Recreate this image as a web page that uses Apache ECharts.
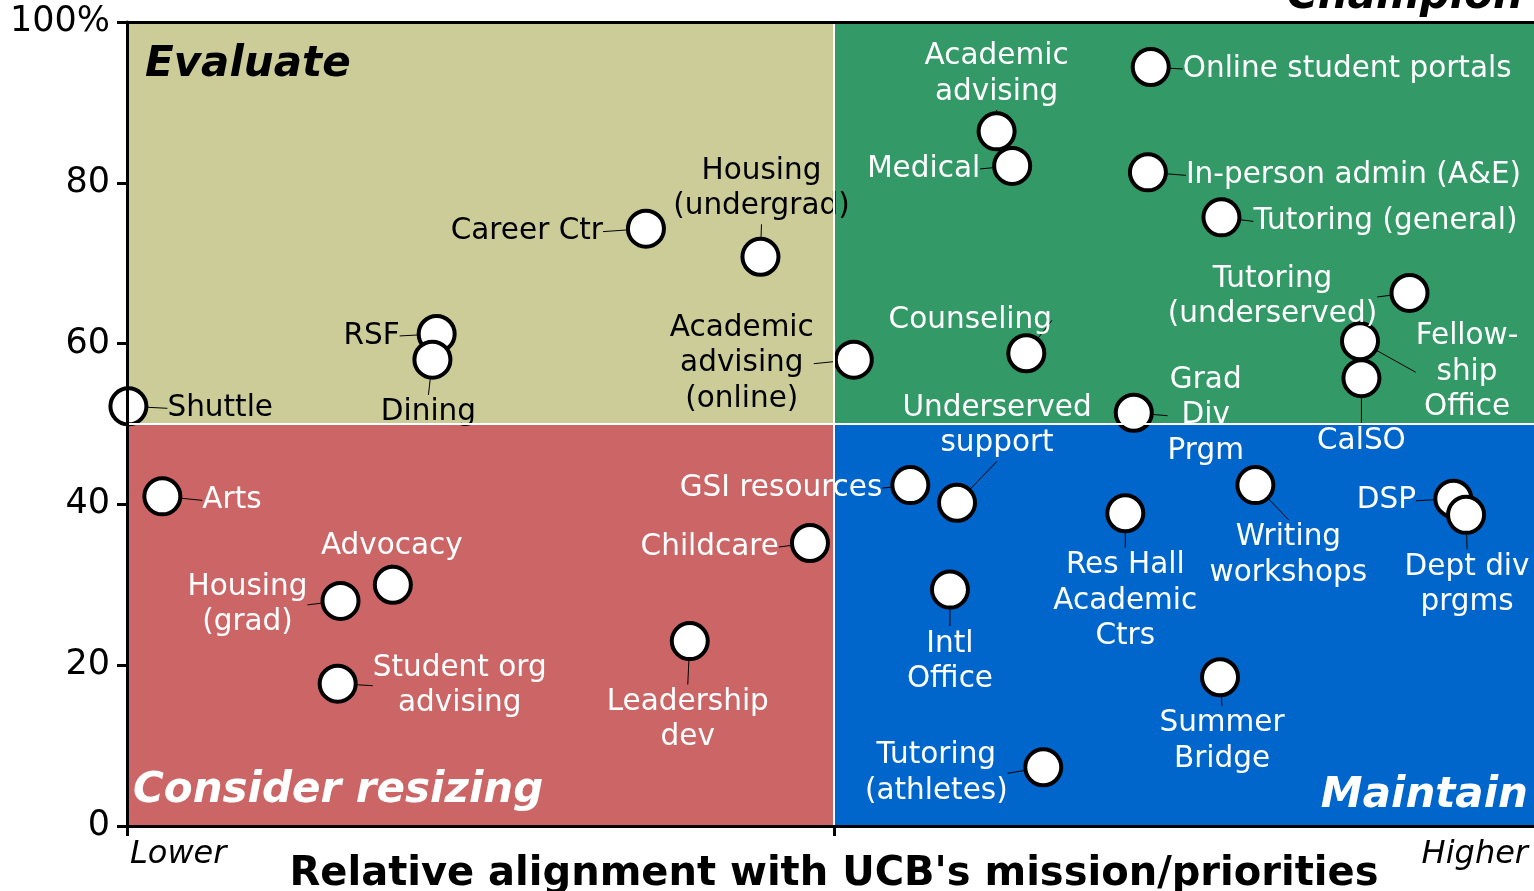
<!DOCTYPE html>
<html>
<head>
    <meta charset="utf-8">
    <title>Quadrant</title>
    <script src="https://cdn.jsdelivr.net/npm/echarts@6/dist/echarts.min.js"></script>
    <style>
        html, body { margin: 0; padding: 0; background: #fff; }
        #main { width: 1534px; height: 891px; }
    </style>
</head>
<body>
<div id="main"></div>
<script type="text/javascript">
    // 服务名称
    var names = ['Shuttle', 'RSF', 'Dining', 'Career Ctr', 'Housing\n(undergrad)', 'Academic\nadvising\n(online)',
        'Academic\nadvising', 'Medical', 'Online student portals', 'In-person admin (A&E)', 'Tutoring (general)',
        'Tutoring\n(underserved)', 'Fellow-\nship\nOffice', 'CalSO', 'Counseling', 'Grad\nDiv\nPrgm',
        'Underserved\nsupport', 'GSI resources', 'Childcare', 'Arts', 'Advocacy', 'Housing\n(grad)',
        'Student org\nadvising', 'Leadership\ndev', 'Intl\nOffice', 'Res Hall\nAcademic\nCtrs',
        'Writing\nworkshops', 'DSP', 'Dept div\nprgms', 'Summer\nBridge', 'Tutoring\n(athletes)'];
    // 与使命的一致程度 (X)
    var alignment = [0.1, 21.9, 21.6, 36.7, 44.8, 51.4,
        61.5, 62.6, 72.4, 72.2, 77.4,
        90.7, 87.2, 87.3, 63.6, 71.2,
        58.7, 55.4, 48.3, 2.5, 18.8, 15.1,
        14.9, 39.8, 58.2, 70.6,
        79.8, 93.8, 94.7, 77.3, 64.8];
    // 百分比 (Y)
    var share = [52.2, 61.2, 58.0, 74.3, 70.8, 58.0,
        86.4, 82.1, 94.4, 81.3, 75.7,
        66.3, 60.3, 55.7, 58.8, 51.4,
        40.2, 42.4, 35.2, 41.0, 30.0, 28.0,
        17.7, 23.0, 29.4, 38.9,
        42.4, 40.7, 38.7, 18.5, 7.3];
    var yTicks = [0, 20, 40, 60, 80, 100];
    var quadrantNames = ['Evaluate', 'Champion', 'Consider resizing', 'Maintain'];

    // 标签摆放 [dx, dy, align, 颜色]
    var place = [
        [39, 0, 'left', '#000'], [-37, 0, 'right', '#000'], [-4, 51, 'center', '#000'], [-43, 1, 'right', '#000'],
        [1, -70, 'center', '#000'], [-112, 2, 'center', '#000'],
        [0, -59, 'center', '#fff'], [-32, 1, 'right', '#fff'], [32, 0, 'left', '#fff'], [38, 1, 'left', '#fff'],
        [32, 2, 'left', '#fff'], [-137, 2, 'center', '#fff'], [107, 29, 'center', '#fff'], [0, 61, 'center', '#fff'],
        [-56, -35, 'center', '#fff'], [72, 1, 'center', '#fff'], [40, -79, 'center', '#fff'],
        [-28, 1, 'right', '#fff'], [-31, 2, 'right', '#fff'], [40, 2, 'left', '#fff'], [-1, -40, 'center', '#fff'],
        [-93, 2, 'center', '#fff'], [122, 0, 'center', '#fff'], [-2, 77, 'center', '#fff'], [0, 70, 'center', '#fff'],
        [0, 86, 'center', '#fff'], [33, 68, 'center', '#fff'], [-67, 0, 'center', '#fff'], [1, 68, 'center', '#fff'],
        [2, 62, 'center', '#fff'], [-107, 4, 'center', '#fff']
    ];

    var points = [];
    for (var i = 0; i < names.length; i++) {
        points.push({
            name: names[i],
            value: [alignment[i], share[i]],
            label: { color: place[i][3] }
        });
    }

    var font = 'DejaVu Sans, Verdana, sans-serif';
    var quadLabel = { fontFamily: font, fontSize: 42, fontWeight: 'bold', fontStyle: 'italic', lineHeight: 50 };

    var myChart = echarts.init(document.getElementById('main'));
    myChart.setOption({
        animation: false,
        textStyle: { fontFamily: font },
        grid: { left: 127, top: 22, width: 1414, height: 804, outerBoundsMode: 'none', containLabel: false },
        xAxis: [{
            type: 'value', min: 0, max: 100, interval: 50, z: 10,
            axisLine: { lineStyle: { color: '#000', width: 3 } },
            axisTick: { show: true, length: 10, lineStyle: { color: '#000', width: 3 } },
            axisLabel: { show: false },
            splitLine: { show: false },
            name: "Relative alignment with UCB's mission/priorities",
            nameLocation: 'middle', nameGap: 29,
            nameTextStyle: { fontFamily: font, fontSize: 40, fontWeight: 'bold', color: '#000' }
        }, {
            type: 'value', position: 'top', min: 0, max: 100, z: 10,
            axisLine: { lineStyle: { color: '#000', width: 3 } },
            axisTick: { show: false }, axisLabel: { show: false }, splitLine: { show: false }
        }],
        yAxis: {
            type: 'value', min: yTicks[0], max: yTicks[yTicks.length - 1], interval: 20, z: 10,
            axisLine: { lineStyle: { color: '#000', width: 3 } },
            axisTick: { show: true, length: 10, lineStyle: { color: '#000', width: 3 } },
            axisLabel: {
                margin: 17, fontFamily: font, fontSize: 35, color: '#000',
                formatter: function (v) { return v === 100 ? '100%' : String(v); }
            },
            splitLine: { show: false }
        },
        graphic: [
            { type: 'text', left: 130, top: 839, style: { text: 'Lower', font: 'italic 32px ' + font, fill: '#000' } },
            { type: 'text', right: 6, top: 839, style: { text: 'Higher', font: 'italic 32px ' + font, fill: '#000' } }
        ],
        series: [{
            type: 'scatter', data: [], z: 1, clip: false, silent: true,
            markArea: {
                silent: true,
                data: [
                    [{ coord: [0, 50], itemStyle: { color: '#cccc99' },
                        label: Object.assign({ position: [18, 43], align: 'left', verticalAlign: 'middle', color: '#000' }, quadLabel),
                        name: quadrantNames[0] }, { coord: [50, 100] }],
                    [{ coord: [50, 50], itemStyle: { color: '#339966' },
                        label: Object.assign({ position: ['100%', 0], align: 'right', verticalAlign: 'middle', offset: [-18, -25], color: '#000' }, quadLabel),
                        name: quadrantNames[1] }, { coord: [100, 100] }],
                    [{ coord: [0, 0], itemStyle: { color: '#cc6666' },
                        label: Object.assign({ position: [6, '100%'], align: 'left', verticalAlign: 'middle', offset: [0, -35], color: '#fff' }, quadLabel),
                        name: quadrantNames[2] }, { coord: [50, 50] }],
                    [{ coord: [50, 0], itemStyle: { color: '#0066cc' },
                        label: Object.assign({ position: ['100%', '100%'], align: 'right', verticalAlign: 'middle', offset: [-13, -30], color: '#fff' }, quadLabel),
                        name: quadrantNames[3] }, { coord: [100, 50] }]
                ]
            },
            markLine: {
                silent: true, symbol: 'none',
                label: { show: false },
                lineStyle: { color: '#fff', width: 2, type: 'solid' },
                data: [{ xAxis: 50 }, { yAxis: 50 }]
            }
        }, {
            type: 'scatter', z: 3,
            data: points,
            symbol: 'circle', symbolSize: 36,
            itemStyle: { color: '#fff', borderColor: '#000', borderWidth: 4, opacity: 1 },
            label: {
                show: true, position: 'top',
                fontFamily: font, fontSize: 29.5, lineHeight: 35.5,
                formatter: function (p) { return p.name; }
            },
            labelLine: { show: true, lineStyle: { color: '#000', width: 1 } },
            labelLayout: function (params) {
                var p = place[params.dataIndex];
                var cx = params.rect.x + params.rect.width / 2;
                var cy = params.rect.y + params.rect.height / 2;
                return { x: cx + p[0], y: cy + p[1] + 2, align: p[2], verticalAlign: 'middle' };
            }
        }]
    });
</script>
</body>
</html>
